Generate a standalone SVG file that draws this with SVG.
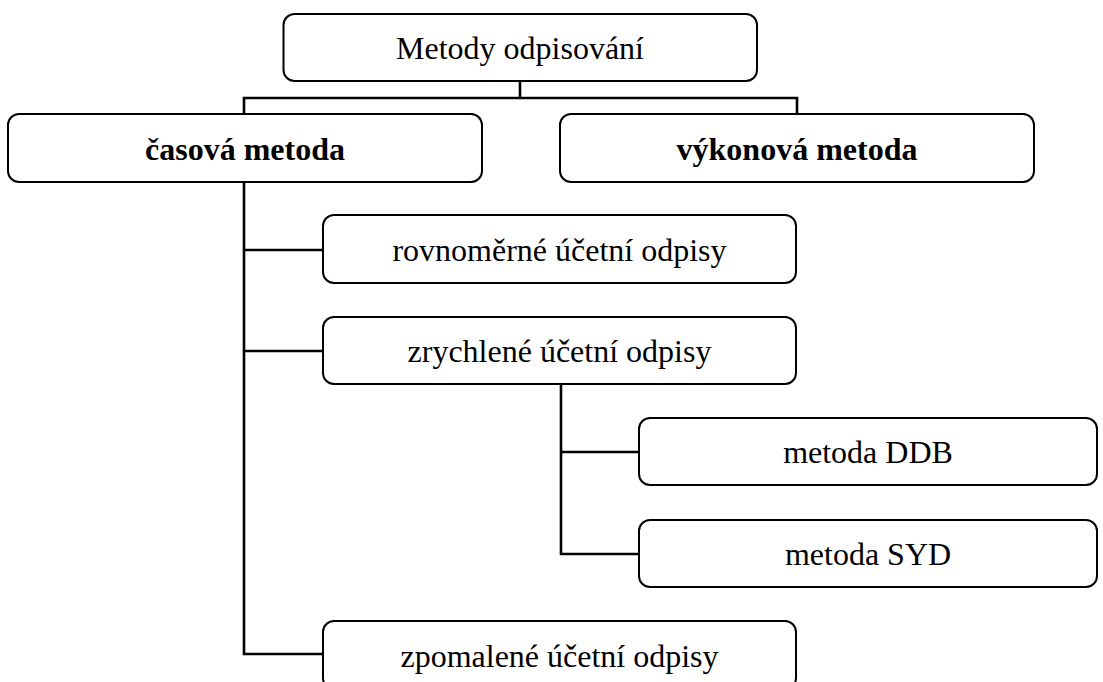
<svg xmlns="http://www.w3.org/2000/svg" width="1103" height="682" viewBox="0 0 1103 682">
<style>
.box{fill:#fff;stroke:#000;stroke-width:2}
.t{font-family:"Liberation Serif","Times New Roman",serif;font-size:32px;fill:#000;text-anchor:middle}
.b{font-weight:bold}
.c{fill:none;stroke:#000;stroke-width:2.6}
</style>
<rect width="1103" height="682" fill="#fff"/>
<g id="connectors">
<path class="c" d="M520,81 V98 M244,114 V98 H797 V114"/>
<path class="c" d="M244,182 V654 H323 M244,250 H323 M244,351 H323"/>
<path class="c" d="M561,384 V554 H639 M561,452 H639"/>
</g>
<g id="n-root"><rect class="box" x="283.5" y="14" width="473.5" height="67" rx="11"/><text class="t" x="520" y="59">Metody odpisování</text></g>
<g id="n-casova"><rect class="box" x="8" y="114" width="474" height="68" rx="11"/><text class="t b" x="245" y="160">časová metoda</text></g>
<g id="n-vykonova"><rect class="box" x="560" y="114" width="474" height="68" rx="11"/><text class="t b" x="797" y="160">výkonová metoda</text></g>
<g id="n-rovnomerne"><rect class="box" x="323" y="215" width="473" height="68" rx="11"/><text class="t" x="559.5" y="261">rovnoměrné účetní odpisy</text></g>
<g id="n-zrychlene"><rect class="box" x="323" y="317" width="473" height="67" rx="11"/><text class="t" x="559.5" y="362">zrychlené účetní odpisy</text></g>
<g id="n-ddb"><rect class="box" x="639" y="418" width="458" height="67" rx="11"/><text class="t" x="868" y="463">metoda DDB</text></g>
<g id="n-syd"><rect class="box" x="639" y="520" width="458" height="67" rx="11"/><text class="t" x="868" y="565">metoda SYD</text></g>
<g id="n-zpomalene"><rect class="box" x="323" y="621" width="473" height="68" rx="11"/><text class="t" x="559.5" y="667">zpomalené účetní odpisy</text></g>
</svg>
